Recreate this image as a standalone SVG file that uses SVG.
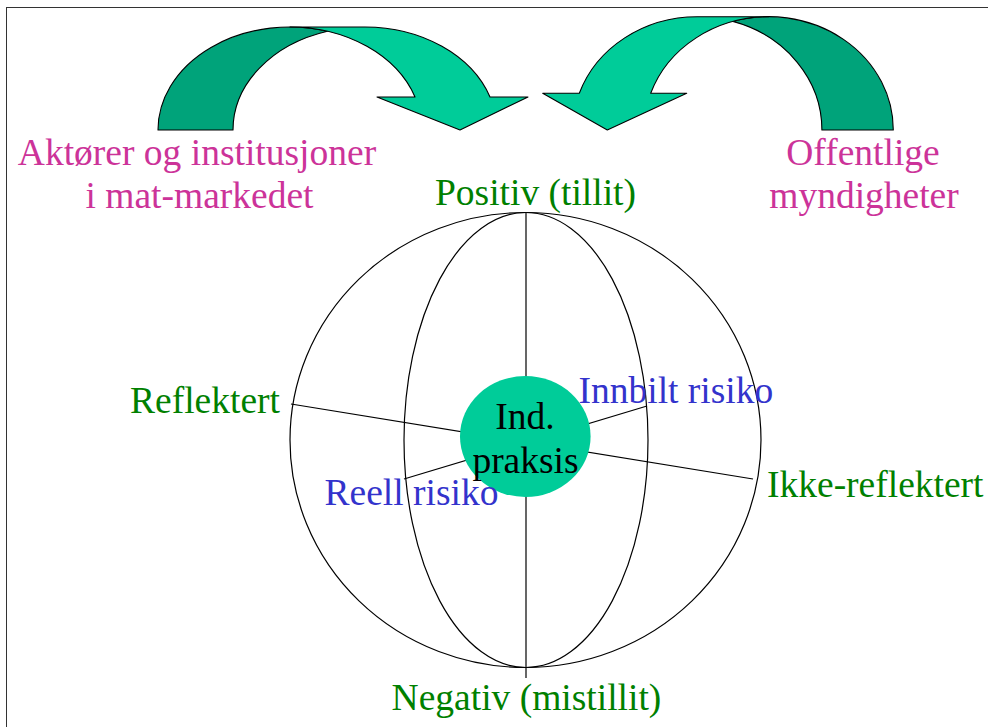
<svg xmlns="http://www.w3.org/2000/svg" width="988" height="727" viewBox="0 0 988 727">
<style>
  .lbl { font-family: "Liberation Serif", "Times New Roman", serif; font-size: 37.5px; }
  .mag { fill: #CC3399; }
  .grn { fill: #008000; }
  .blu { fill: #3333CC; }
  .blk { fill: #000000; }
  .ln { stroke: #000; stroke-width: 1.2; fill: none; }
  .light { fill: #00CC99; stroke: #000; stroke-width: 1.1; stroke-linejoin: round; }
  .dark { fill: #00A37A; stroke: #000; stroke-width: 1.1; stroke-linejoin: round; }
</style>
<rect x="0" y="0" width="988" height="727" fill="#ffffff"/>
<rect x="6.5" y="7.5" width="1000" height="800" fill="none" stroke="#333" stroke-width="1"/>

<g id="arrow-left">
  <path class="dark" d="M158,130 A132,103 0 0 1 327.5,31.2 A132,103 0 0 0 233,130 Z"/>
  <path class="light" d="M415,97 A132,103 0 0 0 290,27 L365,27 A132,103 0 0 1 490,97 L528,97 L460,130 L377,97 Z"/>
</g>
<g id="arrow-right">
  <path class="dark" d="M893.3,130 A124.7,113.3 0 0 0 732.9,21.4 A124.7,113.3 0 0 1 821.9,130 Z"/>
  <path class="light" d="M650.7,93.3 A124.7,113.3 0 0 1 768.6,16.7 L697.2,16.7 A124.7,113.3 0 0 0 579.3,93.3 L542.7,93.3 L607.3,130 L686.7,93.3 Z"/>
</g>

<g id="label-aktorer">
  <text class="lbl mag" x="197" y="165" text-anchor="middle">Aktører og institusjoner</text>
  <text class="lbl mag" x="199.5" y="208" text-anchor="middle">i mat-markedet</text>
</g>
<g id="label-offentlige">
  <text class="lbl mag" x="863" y="165" text-anchor="middle">Offentlige</text>
  <text class="lbl mag" x="864" y="208" text-anchor="middle">myndigheter</text>
</g>

<g id="sphere">
  <ellipse class="ln" cx="525.5" cy="440" rx="235.5" ry="227.5"/>
  <ellipse class="ln" cx="526" cy="440" rx="122" ry="227.5"/>
</g>

<g id="connectors">
  <line class="ln" x1="526" y1="213" x2="526" y2="678"/>
  <line class="ln" x1="291" y1="404" x2="753" y2="479"/>
  <line class="ln" x1="404" y1="479" x2="647" y2="406"/>
</g>

<g id="node-ind-praksis">
  <ellipse cx="525.3" cy="436.5" rx="65.3" ry="60.5" fill="#00CC99"/>
  <text class="lbl blk" x="525" y="429" text-anchor="middle">Ind.</text>
  <text class="lbl blk" x="525.5" y="473" text-anchor="middle">praksis</text>
</g>

<g id="label-positiv"><text class="lbl grn" x="535.5" y="205" text-anchor="middle">Positiv (tillit)</text></g>
<g id="label-negativ"><text class="lbl grn" x="526.5" y="710" text-anchor="middle">Negativ (mistillit)</text></g>
<g id="label-reflektert"><text class="lbl grn" x="130" y="413">Reflektert</text></g>
<g id="label-ikke-reflektert"><text class="lbl grn" x="767" y="497">Ikke-reflektert</text></g>
<g id="label-innbilt"><text class="lbl blu" x="578.5" y="403">Innbilt risiko</text></g>
<g id="label-reell"><text class="lbl blu" x="324.5" y="505">Reell risiko</text></g>
</svg>
